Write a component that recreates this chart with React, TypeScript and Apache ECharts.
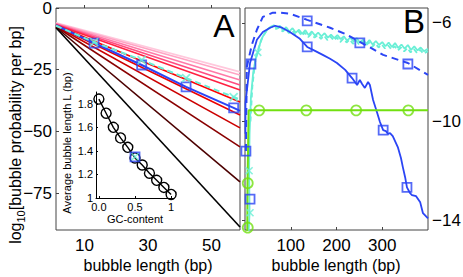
import React, { useEffect, useRef } from 'react';
import * as echarts from 'echarts';

// ---------- Panel A data ----------
const aLineX = [1, 59];
const aStartVals = [-6.0, -6.2, -6.4, -6.6, -6.8, -7.0, -7.2, -7.4, -7.6, -7.8, -8.0];
const aEndVals = [-25.9, -27.2, -29.2, -31.2, -33.2, -38.1, -43.4, -48.6, -56.3, -70.5, -88.8];
const aColors = ['#ffc8dc', '#ffa4c4', '#ff7aa8', '#ff4c80', '#ff2040', '#ff0000', '#ec0000', '#cc0000', '#8a0000', '#4c0000', '#000000'];
const aSeqX = [1, 13, 28, 42, 57, 59];
const aBlueVals = [-7.0, -14.2, -23.1, -32.0, -40.5, -41.7];
const aCyanVals = [-7.2, -13.8, -21.1, -28.4, -36.1, -37.1];
const aMarkX = [13, 28, 42, 57];
const aBlueMarks = [-14.2, -23.1, -32.0, -40.5];
const aCyanMarks = [-13.8, -21.1, -28.4, -36.1];
const aXTicks = [10, 30, 50];
const aYTicks = [0, -25, -50, -75];

// ---------- Inset data ----------
const insetGC = [0, 0.1, 0.2, 0.3, 0.4, 0.5, 0.6, 0.7, 0.8, 0.9, 1];
const insetL = [1.84, 1.72, 1.6, 1.51, 1.43, 1.34, 1.28, 1.21, 1.15, 1.09, 1.03];
const insetSeqGC = [0.5];
const insetSeqL = [1.35];
const insetXTicks = [0, 0.5, 1];
const insetYTicks = [1, 1.2, 1.4, 1.6, 1.8];

// ---------- Panel B data ----------
const bXTicks = [100, 200, 300];
const bYTicks = [-6, -10, -14];
const bGreen = [[5, -14.45], [5.5, -12.5], [8, -9.55], [400, -9.55]];
const bGreenMarks = [[6, -14.3], [6, -12.5], [31, -9.55], [134, -9.55], [243, -9.55], [357, -9.55]];
const bBlueSolid = [
  [1, -10.5], [1, -9.25], [11, -7.63], [26, -6.69], [39, -6.37], [55, -6.2], [66, -6.12], [81, -6.2],
  [98, -6.37], [120, -6.65], [136, -6.98], [153, -7.14], [170, -7.3], [186, -7.46], [201, -7.63],
  [219, -7.91], [234, -8.24], [245, -8.52], [251, -8.32], [256, -8.48], [262, -8.64], [269, -8.4],
  [273, -8.52], [280, -9.13], [289, -9.66], [295, -10.02], [302, -10.35], [308, -10.39], [313, -10.51],
  [317, -10.47], [323, -10.59], [334, -11.04], [341, -11.49], [345, -11.85], [350, -12.26], [354, -12.67],
  [361, -12.91], [365, -12.99], [374, -13.03], [383, -13.28], [389, -13.72], [400, -13.93],
];
const bBlueSolidMarks = [[13, -7.67], [136, -6.98], [234, -8.24], [302, -10.35], [354, -12.67], [2, -11.2], [11, -13.15]];
const bBlueDash = [
  [2, -11.2], [4, -7.79], [15, -6.89], [26, -6.28], [39, -5.76], [61, -5.59], [77, -5.59], [98, -5.63],
  [136, -5.88], [186, -6.2], [219, -6.45], [251, -6.77], [302, -7.3], [356, -7.63], [400, -8.11],
];
const bBlueDashMarks = [[136, -5.92], [251, -6.81], [356, -7.67]];
const bCyan = [
  [8, -14.45], [10, -13.7], [9, -12], [10, -10.5], [13, -9], [18, -8], [24, -7.4], [28, -7.2], [35, -6.7],
  [42, -6.45], [50, -6.25], [57, -6.15], [63, -6.1], [70, -6.22], [76, -6.12], [83, -6.3], [90, -6.18],
  [97, -6.35], [104, -6.22], [111, -6.4], [118, -6.28], [125, -6.45], [132, -6.3], [139, -6.5], [146, -6.35],
  [153, -6.52], [160, -6.4], [167, -6.55], [174, -6.42], [181, -6.6], [188, -6.48], [195, -6.62], [202, -6.5],
  [209, -6.66], [216, -6.55], [223, -6.72], [230, -6.6], [237, -6.75], [244, -6.62], [251, -6.8], [258, -6.68],
  [265, -6.85], [272, -6.7], [279, -6.88], [286, -6.74], [293, -6.9], [300, -6.78], [307, -6.95], [314, -6.8],
  [321, -6.98], [328, -6.82], [335, -7.02], [342, -6.88], [349, -7.05], [356, -6.9], [363, -7.1], [370, -6.95],
  [377, -7.12], [384, -7.0], [391, -7.15], [400, -7.05],
];
const bCyanDash = [
  [12, -10], [16, -8.6], [22, -7.6], [30, -7], [38, -6.6], [46, -6.35], [54, -6.2], [61, -6.15], [68, -6.25],
  [75, -6.2], [82, -6.35], [89, -6.25], [96, -6.42], [103, -6.3], [110, -6.48], [117, -6.35], [124, -6.52],
  [131, -6.4], [138, -6.58], [145, -6.45], [152, -6.6], [159, -6.5], [166, -6.65], [173, -6.52], [180, -6.7],
  [187, -6.56], [194, -6.72], [201, -6.6], [208, -6.78], [215, -6.64], [222, -6.8], [229, -6.68], [236, -6.85],
  [243, -6.72], [250, -6.9], [257, -6.76], [264, -6.92], [271, -6.8], [278, -6.98], [285, -6.84], [292, -7.0],
  [299, -6.88], [306, -7.04], [313, -6.92], [320, -7.08], [327, -6.95], [334, -7.12], [341, -7.0], [348, -7.16],
  [355, -7.02], [362, -7.2], [369, -7.06], [376, -7.22], [383, -7.1], [390, -7.25], [400, -7.15],
];
const bCyanMarks = [[9, -12], [11, -13.7], [28, -7.2]];

const FONT = 'Liberation Sans, Arial, Helvetica, sans-serif';
const BLUE = '#2b45f5';
const CYAN = '#6aefd6';
const GREEN = '#72e010';
const XSYM = 'path://M0,0L10,10M10,0L0,10';
const minus = (v: number) => (v === 0 ? '0' : (v < 0 ? '\u2212' : '') + Math.abs(v));

export default function App() {
  const ref = useRef<HTMLDivElement>(null);
  useEffect(() => {
    if (!ref.current) return;
    const chart = echarts.init(ref.current, null, { renderer: 'svg' });
    const axisText = { color: '#000', fontFamily: FONT };

    const series: any[] = [];
    aStartVals.forEach((s, i) => {
      series.push({
        type: 'line', xAxisIndex: 0, yAxisIndex: 0, showSymbol: false,
        data: [[aLineX[0], s], [aLineX[1], aEndVals[i]]],
        lineStyle: { color: aColors[i], width: 1.6 }, z: 2,
      });
    });
    series.push({
      type: 'line', xAxisIndex: 0, yAxisIndex: 0, showSymbol: false, z: 3,
      data: aSeqX.map((x, i) => [x, aBlueVals[i]]), lineStyle: { color: BLUE, width: 2 },
    });
    series.push({
      type: 'line', xAxisIndex: 0, yAxisIndex: 0, showSymbol: false, z: 4,
      data: aSeqX.map((x, i) => [x, aCyanVals[i]]), lineStyle: { color: CYAN, width: 2, type: [6, 4] },
    });
    series.push({
      type: 'scatter', xAxisIndex: 0, yAxisIndex: 0, symbol: 'rect', symbolSize: 9, z: 5,
      data: aMarkX.map((x, i) => [x, aBlueMarks[i]]),
      itemStyle: { color: 'transparent', borderColor: BLUE, borderWidth: 1.8 },
    });
    series.push({
      type: 'scatter', xAxisIndex: 0, yAxisIndex: 0, symbol: XSYM, symbolSize: 8, z: 6,
      data: aMarkX.map((x, i) => [x, aCyanMarks[i]]),
      itemStyle: { color: 'none', borderColor: CYAN, borderWidth: 1.8 },
    });
    // inset
    series.push({
      type: 'line', xAxisIndex: 1, yAxisIndex: 1, symbol: 'circle', symbolSize: 10, z: 7,
      data: insetGC.map((g, i) => [g, insetL[i]]),
      lineStyle: { color: '#000', width: 1.4 },
      itemStyle: { color: 'transparent', borderColor: '#000', borderWidth: 1.4 },
    });
    series.push({
      type: 'scatter', xAxisIndex: 1, yAxisIndex: 1, symbol: 'rect', symbolSize: 9, z: 8,
      data: insetSeqGC.map((g, i) => [g, insetSeqL[i]]),
      itemStyle: { color: 'transparent', borderColor: BLUE, borderWidth: 1.8 },
    });
    series.push({
      type: 'scatter', xAxisIndex: 1, yAxisIndex: 1, symbol: XSYM, symbolSize: 7, z: 9,
      data: insetSeqGC.map((g, i) => [g, insetSeqL[i]]),
      itemStyle: { color: 'none', borderColor: CYAN, borderWidth: 1.6 },
    });
    // panel B
    const bLine = (data: number[][], color: string, dash?: any, width = 1.8, z = 3) => ({
      type: 'line', xAxisIndex: 2, yAxisIndex: 2, showSymbol: false, data, z,
      lineStyle: { color, width, type: dash || 'solid' },
    });
    series.push(bLine(bCyan, CYAN, undefined, 1.8, 2));
    series.push(bLine(bCyanDash, CYAN, [5, 3], 1.8, 2));
    series.push(bLine(bBlueDash, BLUE, [7, 5], 2, 3));
    series.push(bLine(bBlueSolid, BLUE, undefined, 1.8, 3));
    series.push(bLine(bGreen, GREEN, undefined, 2, 4));
    series.push({
      type: 'scatter', xAxisIndex: 2, yAxisIndex: 2, symbol: 'circle', symbolSize: 10, z: 5,
      data: bGreenMarks, itemStyle: { color: 'transparent', borderColor: GREEN, borderWidth: 1.8 },
    });
    series.push({
      type: 'scatter', xAxisIndex: 2, yAxisIndex: 2, symbol: 'rect', symbolSize: 9, z: 5,
      data: [...bBlueSolidMarks, ...bBlueDashMarks],
      itemStyle: { color: 'transparent', borderColor: BLUE, borderWidth: 1.8 },
    });
    series.push({
      type: 'scatter', xAxisIndex: 2, yAxisIndex: 2, symbol: XSYM, symbolSize: 7, z: 5,
      data: bCyanMarks, itemStyle: { color: 'none', borderColor: CYAN, borderWidth: 1.6 },
    });

    const gridBox = { show: true, borderColor: '#444', borderWidth: 1, backgroundColor: 'transparent', outerBoundsMode: 'none' };
    chart.setOption({
      animation: false,
      grid: [
        { ...gridBox, left: 56, top: 8, width: 184, height: 222 },
        { show: false, left: 96, top: 92, width: 78, height: 106, outerBoundsMode: 'none' },
        { ...gridBox, left: 245, top: 8, width: 183, height: 222 },
      ],
      xAxis: [
        {
          type: 'value', gridIndex: 0, min: 1, max: 59, splitLine: { show: false },
          axisLine: { show: false },
          axisTick: { show: true, inside: true, length: 3, customValues: aXTicks, lineStyle: { color: '#444' } },
          axisLabel: { ...axisText, fontSize: 17, margin: 7, customValues: aXTicks },
        },
        {
          type: 'value', gridIndex: 1, min: -0.04, max: 1.04, splitLine: { show: false },
          axisLine: { show: true, onZero: false, lineStyle: { color: '#000', width: 1 } },
          axisTick: { show: true, inside: true, length: 2, customValues: insetXTicks, lineStyle: { color: '#000' } },
          axisLabel: {
            ...axisText, fontSize: 11, margin: 3, customValues: insetXTicks,
            formatter: (v: number) => (v === 0 ? '0.0' : v === 0.5 ? '0.5' : '1'),
          },
        },
        {
          type: 'value', gridIndex: 2, min: 0, max: 400, splitLine: { show: false },
          axisLine: { show: false },
          axisTick: { show: true, inside: true, length: 3, customValues: bXTicks, lineStyle: { color: '#444' } },
          axisLabel: { ...axisText, fontSize: 17, margin: 7, customValues: bXTicks },
        },
      ],
      yAxis: [
        {
          type: 'value', gridIndex: 0, min: -90, max: 0, splitLine: { show: false },
          axisLine: { show: false },
          axisTick: { show: true, inside: true, length: 3, customValues: aYTicks, lineStyle: { color: '#444' } },
          axisLabel: { ...axisText, fontSize: 17, margin: 4, customValues: aYTicks, formatter: minus },
        },
        {
          type: 'value', gridIndex: 1, min: 1, max: 1.9, splitLine: { show: false },
          axisLine: { show: true, onZero: false, lineStyle: { color: '#000', width: 1 } },
          axisTick: { show: true, inside: true, length: 2, customValues: insetYTicks, lineStyle: { color: '#000' } },
          axisLabel: {
            ...axisText, fontSize: 11, margin: 3, customValues: insetYTicks,
            formatter: (v: number) => (Math.abs(v - 1) < 1e-9 ? '1' : v.toFixed(1)),
          },
        },
        {
          type: 'value', gridIndex: 2, position: 'right', min: -14.4, max: -5.4, splitLine: { show: false },
          axisLine: { show: false },
          axisTick: { show: true, inside: true, length: 3, customValues: bYTicks, lineStyle: { color: '#444' } },
          axisLabel: { ...axisText, fontSize: 17, margin: 4, customValues: bYTicks, formatter: minus },
        },
      ],
      graphic: [
        {
          type: 'text', x: 15, y: 135, rotation: Math.PI / 2,
          style: {
            text: '{a|log}{s|10}{a|[bubble probability per bp]}',
            align: 'center', verticalAlign: 'middle', fill: '#000', fontFamily: FONT,
            rich: {
              a: { fontSize: 16, lineHeight: 22, fontFamily: FONT, fill: '#000' },
              s: { fontSize: 11, lineHeight: 22, verticalAlign: 'bottom', fontFamily: FONT, fill: '#000' },
            },
          },
        },
        {
          type: 'text', x: 148, y: 265,
          style: { text: 'bubble length (bp)', fontSize: 16, fontFamily: FONT, fill: '#000', align: 'center', verticalAlign: 'middle' },
        },
        {
          type: 'text', x: 336, y: 265,
          style: { text: 'bubble length (bp)', fontSize: 16, fontFamily: FONT, fill: '#000', align: 'center', verticalAlign: 'middle' },
        },
        {
          type: 'text', x: 67, y: 143, rotation: Math.PI / 2,
          style: { text: 'Average bubble length L (bp)', fontSize: 11, fontFamily: FONT, fill: '#000', align: 'center', verticalAlign: 'middle' },
        },
        {
          type: 'text', x: 135, y: 219,
          style: { text: 'GC-content', fontSize: 11, fontFamily: FONT, fill: '#000', align: 'center', verticalAlign: 'middle' },
        },
        {
          type: 'text', x: 224, y: 26,
          style: { text: 'A', fontSize: 32, fontFamily: FONT, fill: '#000', align: 'center', verticalAlign: 'middle' },
        },
        {
          type: 'text', x: 414, y: 21,
          style: { text: 'B', fontSize: 33, fontFamily: FONT, fill: '#000', align: 'center', verticalAlign: 'middle' },
        },
      ],
      series,
    });
    return () => chart.dispose();
  }, []);
  return (
    <div
      ref={ref}
      style={{ position: 'fixed', left: 0, top: 0, width: 463, height: 277, background: '#fff' }}
    />
  );
}
